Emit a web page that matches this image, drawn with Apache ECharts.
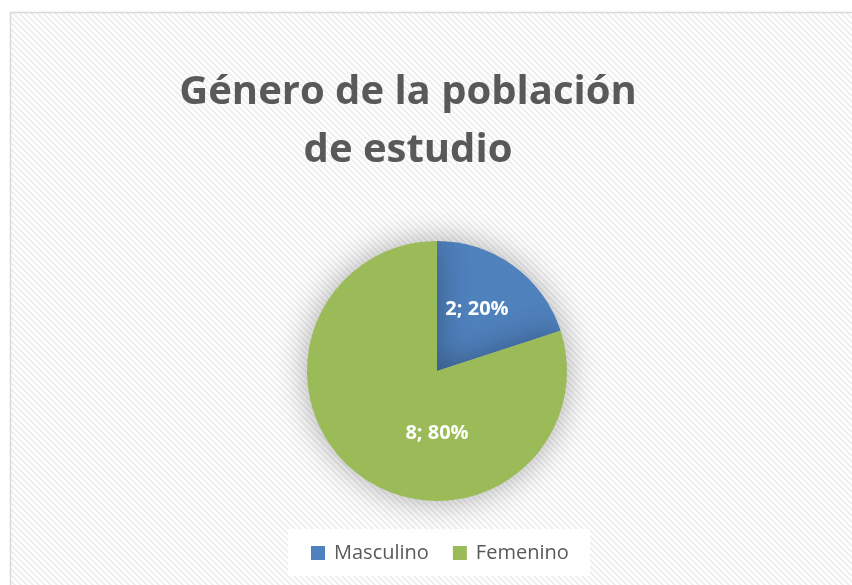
<!DOCTYPE html>
<html>
  <head>
    <meta charset="UTF-8">
    <title>Género de la población de estudio</title>
    <script src="https://cdn.jsdelivr.net/npm/echarts@6/dist/echarts.min.js"></script>
    <style>
      html, body { margin: 0; padding: 0; background: #fff; }
      #main { width: 852px; height: 585px; }
    </style>
  </head>
  <body>
    <div id="main"></div>
    <script type="text/javascript">
      // datos del gráfico
      var categorias = ['Masculino', 'Femenino'];
      var valores = [2, 8];
      var colores = ['#4f81bd', '#9bbb59'];

      // patrón de rayas diagonales del fondo
      function makeStripes() {
        var c = document.createElement('canvas');
        c.width = 6; c.height = 6;
        var ctx = c.getContext('2d');
        ctx.fillStyle = '#ffffff';
        ctx.fillRect(0, 0, 6, 6);
        ctx.strokeStyle = '#efefef';
        ctx.lineWidth = 2;
        ctx.beginPath();
        ctx.moveTo(-1, -1); ctx.lineTo(7, 7);
        ctx.moveTo(-4, 2); ctx.lineTo(4, 10);
        ctx.moveTo(2, -4); ctx.lineTo(10, 4);
        ctx.stroke();
        return c;
      }

      var chart = echarts.init(document.getElementById('main'));
      var datos = categorias.map(function (n, i) {
        return { name: n, value: valores[i], itemStyle: { color: colores[i] } };
      });

      chart.setOption({
        animation: false,
        graphic: [
          {
            type: 'rect',
            z: -10,
            shape: { x: 10.5, y: 12.5, width: 860, height: 600 },
            style: { fill: { image: makeStripes(), repeat: 'repeat' }, stroke: '#d9d9d9', lineWidth: 1.5 }
          },
          {
            type: 'rect',
            z: -5,
            shape: { x: 288, y: 529, width: 302, height: 47 },
            style: { fill: '#ffffff' }
          }
        ],
        title: {
          text: 'Género de la población\nde estudio',
          left: 403,
          top: 59,
          textAlign: 'center',
          textStyle: {
            fontFamily: 'Open Sans',
            fontWeight: 'bold',
            fontSize: 40,
            lineHeight: 58,
            color: '#595959'
          }
        },
        legend: {
          data: categorias,
          left: 311,
          top: 543,
          padding: 0,
          itemWidth: 14,
          itemHeight: 14,
          itemGap: 24,
          icon: 'rect',
          textStyle: { fontFamily: 'Open Sans', fontSize: 20, color: '#595959', padding: [0, 0, 0, 4] }
        },
        series: [
          {
            type: 'pie',
            center: [437, 371],
            radius: 130,
            startAngle: 90,
            clockwise: true,
            data: datos,
            label: {
              show: true,
              position: 'inside',
              formatter: function (p) { return p.value + '; ' + Math.round(p.percent) + '%'; },
              fontFamily: 'Open Sans',
              fontWeight: 'bold',
              fontSize: 20,
              color: '#ffffff'
            },
            // desplazar etiquetas como en Excel
            labelLayout: function (params) {
              if (params.dataIndex === 0) {
                return { dy: -7 };
              }
              return { dx: 40, dy: 7 };
            },
            labelLine: { show: false },
            itemStyle: {
              borderWidth: 0,
              shadowBlur: 32,
              shadowColor: 'rgba(0,0,0,0.32)'
            },
            emphasis: { disabled: true }
          }
        ]
      });
    </script>
  </body>
</html>
